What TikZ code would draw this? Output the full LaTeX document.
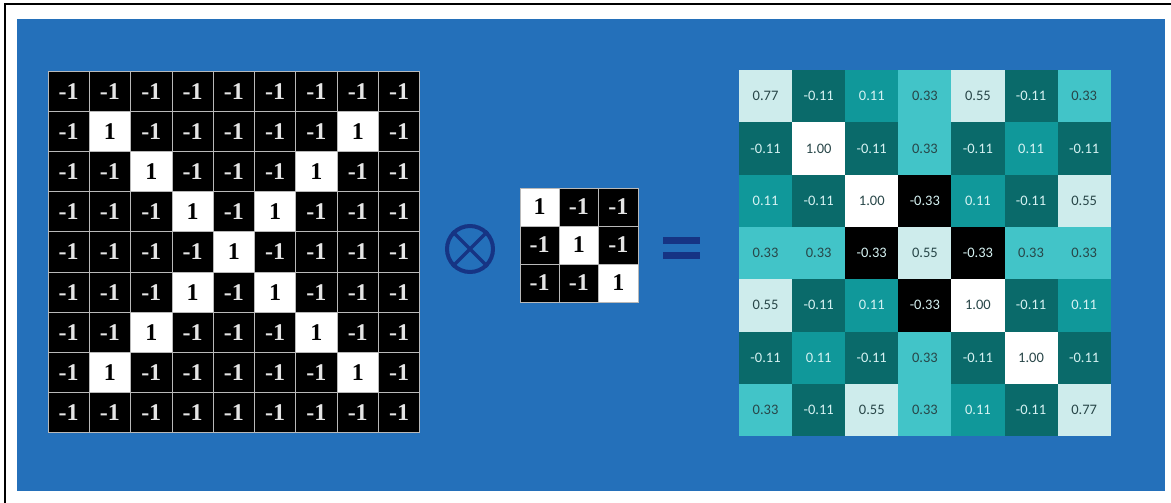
\documentclass[tikz,border=0pt]{standalone}
\usepackage{fontspec}
\setmainfont{Liberation Serif}
\newfontfamily\cellfont{Carlito}
\usetikzlibrary{positioning}

\definecolor{panelblue}{RGB}{36,112,186}
\definecolor{opnavy}{RGB}{22,52,132}
\definecolor{tealdark}{RGB}{10,106,106}
\definecolor{tealmid}{RGB}{16,152,154}
\definecolor{teallight}{RGB}{66,196,200}
\definecolor{tealpale}{RGB}{206,236,236}
\definecolor{numdark}{RGB}{40,70,72}
\definecolor{numlight}{RGB}{214,242,242}

\begin{document}
\begin{tikzpicture}[x=1pt, y=-1pt, every node/.style={align=center, inner sep=0pt},
    incell/.style={rectangle, minimum width=41.3, minimum height=40.2, draw=gray!55, line width=0.8, font=\fontsize{24}{24}\selectfont\bfseries},
    pixon/.style={fill=white, text=black},
    pixoff/.style={fill=black, text=white!90!black},
    kcell/.style={incell, minimum width=39.3, minimum height=38},
    outcell/.style={rectangle, minimum width=53.1, minimum height=52.3, font=\fontsize{14.5}{14.5}\selectfont\cellfont},
    v-pale/.style={fill=tealpale, text=numdark},
    v-white/.style={fill=white, text=numdark},
    v-light/.style={fill=teallight, text=numdark},
    v-mid/.style={fill=tealmid, text=numlight},
    v-dark/.style={fill=tealdark, text=numlight},
    v-black/.style={fill=black, text=numlight},
    bar/.style={rectangle, fill=opnavy, minimum width=37, minimum height=7}]
    \useasboundingbox (0,0) rectangle (1171,503);
    \fill[white] (0,0) rectangle (1171,503);
    \draw[black, line width=2.5] (5,503) -- (5,4) -- (1171,4);
    \fill[panelblue] (17,19) rectangle (1165,491);

    \foreach \r in {1,...,9}
      \foreach \c in {1,...,9} {
        \pgfmathtruncatemacro\isone{min(1,(\r==\c)+(\r+\c==10))*(\r>1)*(\r<9)}
        \ifnum\isone=1
          \node (in-\r-\c) [incell, pixon] at ({48+41.3*(\c-0.5)},{71+40.2*(\r-0.5)}) {1};
        \else
          \node (in-\r-\c) [incell, pixoff] at ({48+41.3*(\c-0.5)},{71+40.2*(\r-0.5)}) {-1};
        \fi
      }

    \node (prod) [circle, draw=opnavy, line width=4, minimum size=46] at (470,249) {};
    \draw[opnavy, line width=3.5] (prod.north west) -- (prod.south east) (prod.north east) -- (prod.south west);

    \foreach \r in {1,2,3}
      \foreach \c in {1,2,3} {
        \ifnum\r=\c
          \node (k-\r-\c) [kcell, pixon] at ({520+39.3*(\c-0.5)},{188+38*(\r-0.5)}) {1};
        \else
          \node (k-\r-\c) [kcell, pixoff] at ({520+39.3*(\c-0.5)},{188+38*(\r-0.5)}) {-1};
        \fi
      }

    \node (eqtop) [bar] at (681.5,240.5) {};
    \node (eqbot) [bar, below=8pt of eqtop] {};

    \foreach \line [count=\r] in {
        {0.77/pale,-0.11/dark,0.11/mid,0.33/light,0.55/pale,-0.11/dark,0.33/light},
        {-0.11/dark,1.00/white,-0.11/dark,0.33/light,-0.11/dark,0.11/mid,-0.11/dark},
        {0.11/mid,-0.11/dark,1.00/white,-0.33/black,0.11/mid,-0.11/dark,0.55/pale},
        {0.33/light,0.33/light,-0.33/black,0.55/pale,-0.33/black,0.33/light,0.33/light},
        {0.55/pale,-0.11/dark,0.11/mid,-0.33/black,1.00/white,-0.11/dark,0.11/mid},
        {-0.11/dark,0.11/mid,-0.11/dark,0.33/light,-0.11/dark,1.00/white,-0.11/dark},
        {0.33/light,-0.11/dark,0.55/pale,0.33/light,0.11/mid,-0.11/dark,0.77/pale}}
      \foreach \v/\s [count=\c] in \line
        \node (out-\r-\c) [outcell, v-\s] at ({739+53.1*(\c-0.5)},{70+52.3*(\r-0.5)}) {\v};
\end{tikzpicture}
\end{document}
